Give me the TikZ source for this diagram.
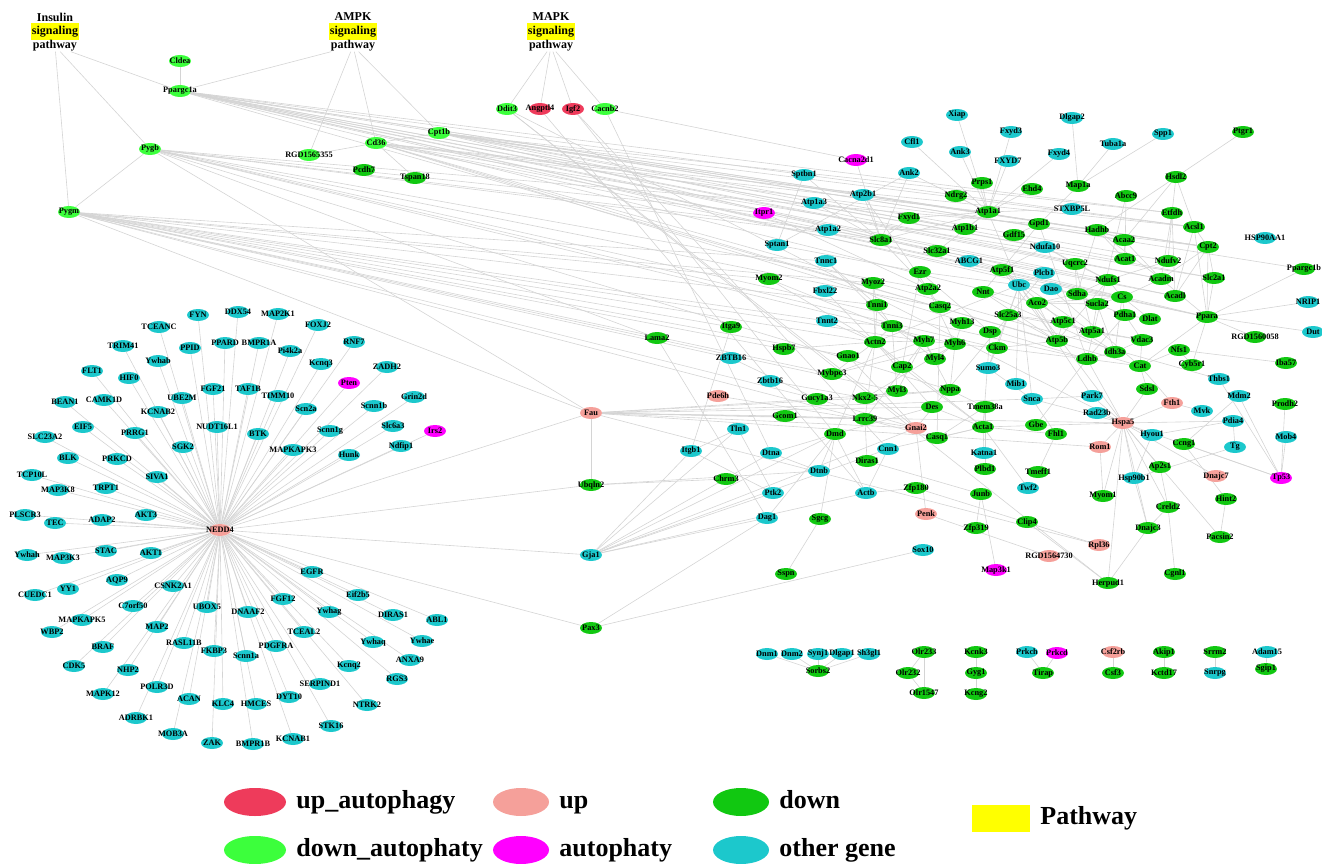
\documentclass[tikz,border=0pt]{standalone}
\usepackage{fontspec}
\setmainfont{Liberation Serif}
\usetikzlibrary{shapes,positioning,backgrounds}
\definecolor{colUpAuto}{HTML}{EE3B5B}
\definecolor{colUp}{HTML}{F5A09A}
\definecolor{colDown}{HTML}{11C811}
\definecolor{colDownAuto}{HTML}{3CFF3C}
\definecolor{colAutoph}{HTML}{FF00FF}
\definecolor{colOther}{HTML}{1CC8CC}
\definecolor{colPath}{HTML}{FFFF00}
\definecolor{colLink}{HTML}{D4D4D4}

\begin{document}
\begin{tikzpicture}[x=1pt, y=-1pt,
    gene/.style={ellipse, minimum width=22pt, minimum height=12pt, inner sep=0pt,
      label={[font=\bfseries\fontsize{8.3}{9}\selectfont, inner sep=0pt]center:#1}},
    upauto/.style={fill=colUpAuto},
    upgene/.style={fill=colUp},
    downgene/.style={fill=colDown},
    downauto/.style={fill=colDownAuto},
    autophaty/.style={fill=colAutoph},
    other/.style={fill=colOther},
    link/.style={draw=colLink, line width=0.6pt},
    ptitle/.style={font=\bfseries\fontsize{12}{14}\selectfont, inner sep=0pt},
    hilite/.style={ptitle, fill=colPath, minimum width=48pt, minimum height=17pt},
    legendkey/.style={ellipse, minimum width=62pt, minimum height=28pt, inner sep=0pt},
    legendtext/.style={font=\bfseries\fontsize{26}{30}\selectfont, inner sep=0pt,
      text height=17pt, text depth=5pt}]
  \useasboundingbox (0,0) rectangle (1322,864);

  % Pathways
  \node[ptitle] (insulintop) at (55,17) {Insulin};
  \node[hilite] (insulinsig) at (55,32) {signaling};
  \node[ptitle] (insulin) at (55,46) {pathway};
  \node[ptitle] (ampktop) at (353,17) {AMPK};
  \node[hilite] (ampksig) at (353,32) {signaling};
  \node[ptitle] (ampk) at (353,46) {pathway};
  \node[ptitle] (mapktop) at (551,17) {MAPK};
  \node[hilite] (mapksig) at (551,32) {signaling};
  \node[ptitle] (mapk) at (551,46) {pathway};

  % Pathway genes
  \node[gene=Cldea, downauto] (Cldea) at (180,61) {};
  \node[gene=Ppargc1a, downauto] (Ppargc1a) at (180,91) {};
  \node[gene=Pygb, downauto] (Pygb) at (150,149) {};
  \node[gene=Pygm, downauto] (Pygm) at (69,212) {};
  \node[gene=RGD1565355, downauto] (RGD1565355) at (309,155) {};
  \node[gene=Cd36, downauto] (Cd36) at (376,143) {};
  \node[gene=Cpt1b, downauto] (Cpt1b) at (439,133) {};
  \node[gene=Pcdh7, downgene] (Pcdh7) at (364,170) {};
  \node[gene=Tspan18, downgene] (Tspan18) at (415,178) {};
  \node[gene=Ddit3, downauto] (Ddit3) at (507,109) {};
  \node[gene=Angptl4, upauto] (Angptl4) at (540,109) {};
  \node[gene=Igf2, upauto] (Igf2) at (573,109) {};
  \node[gene=Cacnb2, downauto] (Cacnb2) at (605,109) {};

  % NEDD4 neighbourhood
  \node[gene=NEDD4, upgene] (NEDD4) at (220,530) {};
  \node[gene=FYN, other] (FYN) at (198,315) {};
  \node[gene=DDX54, other] (DDX54) at (238,312) {};
  \node[gene=TCEANC, other] (TCEANC) at (159,327) {};
  \node[gene=PPARD, other] (PPARD) at (225,343) {};
  \node[gene=TRIM41, other] (TRIM41) at (123,346) {};
  \node[gene=PPID, other] (PPID) at (190,348) {};
  \node[gene=Ywhab, other] (Ywhab) at (158,361) {};
  \node[gene=FLT1, other] (FLT1) at (92,371) {};
  \node[gene=HIF0, other] (HIF0) at (129,378) {};
  \node[gene=BEAN1, other] (BEAN1) at (65,402) {};
  \node[gene=CAMK1D, other] (CAMK1D) at (104,400) {};
  \node[gene=UBE2M, other] (UBE2M) at (182,398) {};
  \node[gene=FGF21, other] (FGF21) at (213,389) {};
  \node[gene=KCNAB2, other] (KCNAB2) at (158,412) {};
  \node[gene=NUDT16L1, other] (NUDT16L1) at (217,427) {};
  \node[gene=EIF5, other] (EIF5) at (83,427) {};
  \node[gene=SLC23A2, other] (SLC23A2) at (45,437) {};
  \node[gene=PRRG1, other] (PRRG1) at (135,433) {};
  \node[gene=SGK2, other] (SGK2) at (183,447) {};
  \node[gene=BLK, other] (BLK) at (68,458) {};
  \node[gene=PRKCD, other] (PRKCD) at (117,459) {};
  \node[gene=TCP10L, other] (TCP10L) at (32,475) {};
  \node[gene=SIVA1, other] (SIVA1) at (157,477) {};
  \node[gene=MAP3K8, other] (MAP3K8) at (58,490) {};
  \node[gene=TRPT1, other] (TRPT1) at (106,488) {};
  \node[gene=AKT3, other] (AKT3) at (146,515) {};
  \node[gene=PLSCR3, other] (PLSCR3) at (25,515) {};
  \node[gene=TEC, other] (TEC) at (55,523) {};
  \node[gene=ADAP2, other] (ADAP2) at (102,520) {};
  \node[gene=MAP2K1, other] (MAP2K1) at (278,314) {};
  \node[gene=FOXJ2, other] (FOXJ2) at (318,325) {};
  \node[gene=BMPR1A, other] (BMPR1A) at (259,343) {};
  \node[gene=Pi4k2a, other] (Pi4k2a) at (290,351) {};
  \node[gene=RNF7, other] (RNF7) at (354,342) {};
  \node[gene=Kcnq3, other] (Kcnq3) at (321,364) {};
  \node[gene=ZADH2, other] (ZADH2) at (387,367) {};
  \node[gene=Pten, autophaty] (Pten) at (349,383) {};
  \node[gene=TAF1B, other] (TAF1B) at (248,389) {};
  \node[gene=TIMM10, other] (TIMM10) at (278,396) {};
  \node[gene=Grin2d, other] (Grin2d) at (414,397) {};
  \node[gene=Scn2a, other] (Scn2a) at (306,409) {};
  \node[gene=Scnn1b, other] (Scnn1b) at (374,406) {};
  \node[gene=BTK, other] (BTK) at (258,434) {};
  \node[gene=Scnn1g, other] (Scnn1g) at (330,431) {};
  \node[gene=Slc6a3, other] (Slc6a3) at (393,426) {};
  \node[gene=Irs2, autophaty] (Irs2) at (435,431) {};
  \node[gene=Ndfip1, other] (Ndfip1) at (401,446) {};
  \node[gene=MAPKAPK3, other] (MAPKAPK3) at (293,450) {};
  \node[gene=Hunk, other] (Hunk) at (349,455) {};
  \node[gene=Ywhah, other] (Ywhah) at (27,555) {};
  \node[gene=MAP3K3, other] (MAP3K3) at (63,558) {};
  \node[gene=STAC, other] (STAC) at (106,551) {};
  \node[gene=AKT1, other] (AKT1) at (151,553) {};
  \node[gene=AQP9, other] (AQP9) at (117,580) {};
  \node[gene=CUEDC1, other] (CUEDC1) at (35,595) {};
  \node[gene=YY1, other] (YY1) at (68,589) {};
  \node[gene=CSNK2A1, other] (CSNK2A1) at (173,586) {};
  \node[gene=C7orf50, other] (C7orf50) at (133,606) {};
  \node[gene=UBOX5, other] (UBOX5) at (207,607) {};
  \node[gene=MAPKAPK5, other] (MAPKAPK5) at (82,620) {};
  \node[gene=WBP2, other] (WBP2) at (52,632) {};
  \node[gene=MAP2, other] (MAP2) at (157,627) {};
  \node[gene=RASL11B, other] (RASL11B) at (184,643) {};
  \node[gene=BRAF, other] (BRAF) at (103,647) {};
  \node[gene=FKBP3, other] (FKBP3) at (214,651) {};
  \node[gene=CDK5, other] (CDK5) at (74,666) {};
  \node[gene=NHP2, other] (NHP2) at (128,670) {};
  \node[gene=MAPK12, other] (MAPK12) at (103,694) {};
  \node[gene=POLR3D, other] (POLR3D) at (157,687) {};
  \node[gene=ACAN, other] (ACAN) at (189,699) {};
  \node[gene=KLC4, other] (KLC4) at (223,704) {};
  \node[gene=ADRBK1, other] (ADRBK1) at (136,718) {};
  \node[gene=MOB3A, other] (MOB3A) at (173,734) {};
  \node[gene=ZAK, other] (ZAK) at (212,743) {};
  \node[gene=EGFR, other] (EGFR) at (312,572) {};
  \node[gene=DNAAF2, other] (DNAAF2) at (248,612) {};
  \node[gene=FGF12, other] (FGF12) at (283,599) {};
  \node[gene=Eif2b5, other] (Eif2b5) at (358,595) {};
  \node[gene=Ywhag, other] (Ywhag) at (329,612) {};
  \node[gene=DIRAS1, other] (DIRAS1) at (393,615) {};
  \node[gene=ABL1, other] (ABL1) at (437,620) {};
  \node[gene=TCEAL2, other] (TCEAL2) at (304,632) {};
  \node[gene=PDGFRA, other] (PDGFRA) at (276,646) {};
  \node[gene=Scnn1a, other] (Scnn1a) at (246,656) {};
  \node[gene=Ywhaq, other] (Ywhaq) at (373,642) {};
  \node[gene=Ywhae, other] (Ywhae) at (422,641) {};
  \node[gene=ANXA9, other] (ANXA9) at (410,660) {};
  \node[gene=Kcnq2, other] (Kcnq2) at (349,666) {};
  \node[gene=RGS3, other] (RGS3) at (397,679) {};
  \node[gene=SERPIND1, other] (SERPIND1) at (320,684) {};
  \node[gene=HMCES, other] (HMCES) at (256,704) {};
  \node[gene=DYT10, other] (DYT10) at (289,697) {};
  \node[gene=NTRK2, other] (NTRK2) at (367,705) {};
  \node[gene=STK16, other] (STK16) at (331,726) {};
  \node[gene=BMPR1B, other] (BMPR1B) at (253,744) {};
  \node[gene=KCNAB1, other] (KCNAB1) at (293,739) {};

  % Right network, left part
  \node[gene=Fau, upgene] (Fau) at (591,413) {};
  \node[gene=Ubqln2, downgene] (Ubqln2) at (591,485) {};
  \node[gene=Gja1, other] (Gja1) at (591,555) {};
  \node[gene=Pax3, downgene] (Pax3) at (591,628) {};
  \node[gene=Lama2, downgene] (Lama2) at (657,338) {};
  \node[gene=Itga9, downgene] (Itga9) at (731,327) {};
  \node[gene=ZBTB16, other] (ZBTB16) at (731,358) {};
  \node[gene=Hspb7, downgene] (Hspb7) at (784,349) {};
  \node[gene=Zbtb16, other] (Zbtb16) at (770,381) {};
  \node[gene=Pde6h, upgene] (Pde6h) at (718,396) {};
  \node[gene=Gucy1a3, downgene] (Gucy1a3) at (817,399) {};
  \node[gene=Gcom1, downgene] (Gcom1) at (785,416) {};
  \node[gene=Tln1, other] (Tln1) at (738,429) {};
  \node[gene=Itgb1, other] (Itgb1) at (691,451) {};
  \node[gene=Dtna, other] (Dtna) at (771,453) {};
  \node[gene=Chrm3, downgene] (Chrm3) at (726,479) {};
  \node[gene=Dtnb, other] (Dtnb) at (819,471) {};
  \node[gene=Ptk2, other] (Ptk2) at (773,493) {};
  \node[gene=Dag1, other] (Dag1) at (767,518) {};
  \node[gene=Sgcg, downgene] (Sgcg) at (820,519) {};
  \node[gene=Sspn, downgene] (Sspn) at (786,574) {};
  \node[gene=Sox10, other] (Sox10) at (923,550) {};
  \node[gene=Itpr1, autophaty] (Itpr1) at (764,213) {};
  \node[gene=Sptan1, other] (Sptan1) at (777,245) {};
  \node[gene=Myom2, downgene] (Myom2) at (769,279) {};
  \node[gene=Sptbn1, other] (Sptbn1) at (804,175) {};
  \node[gene=Atp1a3, other] (Atp1a3) at (814,203) {};
  \node[gene=Atp1a2, other] (Atp1a2) at (828,230) {};
  \node[gene=Tnnc1, other] (Tnnc1) at (826,261) {};
  \node[gene=Fbxl22, other] (Fbxl22) at (825,291) {};
  \node[gene=Tnnt2, other] (Tnnt2) at (827,321) {};
  \node[gene=Cacna2d1, autophaty] (Cacna2d1) at (856,160) {};
  \node[gene=Cfl1, other] (Cfl1) at (912,142) {};
  \node[gene=Ank2, other] (Ank2) at (909,173) {};
  \node[gene=Atp2b1, other] (Atp2b1) at (863,195) {};
  \node[gene=Fxyd1, downgene] (Fxyd1) at (909,218) {};
  \node[gene=Slc8a1, downgene] (Slc8a1) at (881,240) {};
  \node[gene=Myoz2, downgene] (Myoz2) at (873,283) {};
  \node[gene=Ezr, downgene] (Ezr) at (920,272) {};
  \node[gene=Atp2a2, downgene] (Atp2a2) at (928,289) {};
  \node[gene=Tnni1, downgene] (Tnni1) at (877,305) {};
  \node[gene=Tnni3, downgene] (Tnni3) at (892,326) {};
  \node[gene=Casq2, downgene] (Casq2) at (940,307) {};
  \node[gene=Slc32a1, downgene] (Slc32a1) at (937,251) {};
  \node[gene=Actn2, downgene] (Actn2) at (875,342) {};
  \node[gene=Myh7, downgene] (Myh7) at (924,341) {};
  \node[gene=Gnao1, downgene] (Gnao1) at (848,356) {};
  \node[gene=Cap2, downgene] (Cap2) at (902,367) {};
  \node[gene=Mybpc3, downgene] (Mybpc3) at (832,374) {};
  \node[gene=Myl3, downgene] (Myl3) at (897,391) {};
  \node[gene=Nkx2-5, downgene] (Nkx) at (865,398) {};
  \node[gene=Lrrc39, downgene] (Lrrc39) at (865,419) {};
  \node[gene=Des, downgene] (Des) at (932,407) {};
  \node[gene=Gnai2, upgene] (Gnai2) at (916,428) {};
  \node[gene=Casq1, downgene] (Casq1) at (937,438) {};
  \node[gene=Dmd, downgene] (Dmd) at (835,434) {};
  \node[gene=Cnn1, other] (Cnn1) at (888,449) {};
  \node[gene=Diras1, downgene] (Diras1) at (867,461) {};
  \node[gene=Actb, other] (Actb) at (866,493) {};
  \node[gene=Zfp180, downgene] (Zfp180) at (916,488) {};
  \node[gene=Penk, upgene] (Penk) at (926,514) {};

  % Right network, right part
  \node[gene=Xiap, other] (Xiap) at (957,115) {};
  \node[gene=Dlgap2, other] (Dlgap2) at (1072,118) {};
  \node[gene=Fxyd3, other] (Fxyd3) at (1011,132) {};
  \node[gene=Spp1, other] (Spp1) at (1163,134) {};
  \node[gene=Ptgr1, downgene] (Ptgr1) at (1243,132) {};
  \node[gene=Tuba1a, other] (Tuba1a) at (1113,144) {};
  \node[gene=Ank3, other] (Ank3) at (960,152) {};
  \node[gene=Fxyd4, other] (Fxyd4) at (1059,154) {};
  \node[gene=FXYD7, other] (FXYD7) at (1008,161) {};
  \node[gene=Prps1, downgene] (Prps1) at (982,183) {};
  \node[gene=Map1a, downgene] (Map1a) at (1078,186) {};
  \node[gene=Hsdl2, downgene] (Hsdl2) at (1176,177) {};
  \node[gene=Ndrg2, downgene] (Ndrg2) at (956,196) {};
  \node[gene=Ehd4, downgene] (Ehd4) at (1032,189) {};
  \node[gene=Abcc9, downgene] (Abcc9) at (1126,196) {};
  \node[gene=Atp1a1, downgene] (Atp1a1) at (988,212) {};
  \node[gene=STXBP5L, other] (STXBP5L) at (1072,209) {};
  \node[gene=Etfdh, downgene] (Etfdh) at (1172,213) {};
  \node[gene=Atp1b1, downgene] (Atp1b1) at (965,229) {};
  \node[gene=Gpd1, downgene] (Gpd1) at (1039,224) {};
  \node[gene=Hadhb, downgene] (Hadhb) at (1097,230) {};
  \node[gene=Acsl1, downgene] (Acsl1) at (1194,227) {};
  \node[gene=Gdf15, downgene] (Gdf15) at (1014,235) {};
  \node[gene=Acaa2, downgene] (Acaa2) at (1124,240) {};
  \node[gene=HSP90AA1, other] (HSP90AA1) at (1265,238) {};
  \node[gene=Cpt2, downgene] (Cpt2) at (1208,247) {};
  \node[gene=Ndufa10, other] (Ndufa10) at (1045,247) {};
  \node[gene=ABCG1, other] (ABCG1) at (969,261) {};
  \node[gene=Acat1, downgene] (Acat1) at (1125,259) {};
  \node[gene=Atp5f1, downgene] (Atp5f1) at (1002,270) {};
  \node[gene=Uqcrc2, downgene] (Uqcrc2) at (1075,264) {};
  \node[gene=Ndufv2, downgene] (Ndufv2) at (1168,261) {};
  \node[gene=Plcb1, other] (Plcb1) at (1044,273) {};
  \node[gene=Ppargc1b, downgene] (Ppargc1b) at (1304,269) {};
  \node[gene=Ndufs1, downgene] (Ndufs1) at (1108,280) {};
  \node[gene=Acadm, downgene] (Acadm) at (1161,279) {};
  \node[gene=Slc2a1, downgene] (Slc2a1) at (1214,278) {};
  \node[gene=Ubc, other] (Ubc) at (1019,285) {};
  \node[gene=Nnt, downgene] (Nnt) at (983,292) {};
  \node[gene=Dao, other] (Dao) at (1051,289) {};
  \node[gene=Sdha, downgene] (Sdha) at (1077,294) {};
  \node[gene=Cs, downgene] (Cs) at (1122,297) {};
  \node[gene=Acadl, downgene] (Acadl) at (1175,296) {};
  \node[gene=Aco2, downgene] (Aco2) at (1037,303) {};
  \node[gene=Sucla2, downgene] (Sucla2) at (1097,304) {};
  \node[gene=NRIP1, other] (NRIP1) at (1308,302) {};
  \node[gene=Slc25a3, downgene] (Slc25a3) at (1008,315) {};
  \node[gene=Atp5c1, downgene] (Atp5c1) at (1063,322) {};
  \node[gene=Pdha1, downgene] (Pdha1) at (1125,315) {};
  \node[gene=Dlat, downgene] (Dlat) at (1150,319) {};
  \node[gene=Ppara, downgene] (Ppara) at (1207,317) {};
  \node[gene=Myh13, downgene] (Myh13) at (962,323) {};
  \node[gene=Atp5a1, downgene] (Atp5a1) at (1092,332) {};
  \node[gene=Dsp, downgene] (Dsp) at (990,332) {};
  \node[gene=Myh6, downgene] (Myh6) at (955,344) {};
  \node[gene=Atp5b, downgene] (Atp5b) at (1057,341) {};
  \node[gene=Vdac3, downgene] (Vdac3) at (1142,340) {};
  \node[gene=RGD1560058, downgene] (RGD1560058) at (1255,337) {};
  \node[gene=Dut, other] (Dut) at (1313,332) {};
  \node[gene=Ckm, downgene] (Ckm) at (997,348) {};
  \node[gene=Nfs1, downgene] (Nfs1) at (1179,350) {};
  \node[gene=Idh3a, downgene] (Idh3a) at (1115,352) {};
  \node[gene=Myl4, downgene] (Myl4) at (935,359) {};
  \node[gene=Ldhb, downgene] (Ldhb) at (1087,359) {};
  \node[gene=Cat, downgene] (Cat) at (1140,366) {};
  \node[gene=Cyb5r1, downgene] (Cyb5r1) at (1192,365) {};
  \node[gene=Iba57, downgene] (Iba57) at (1286,363) {};
  \node[gene=Sumo3, other] (Sumo3) at (988,368) {};
  \node[gene=Thbs1, other] (Thbs1) at (1219,379) {};
  \node[gene=Mib1, other] (Mib1) at (1016,384) {};
  \node[gene=Sdsl, downgene] (Sdsl) at (1147,389) {};
  \node[gene=Nppa, downgene] (Nppa) at (950,390) {};
  \node[gene=Snca, other] (Snca) at (1032,399) {};
  \node[gene=Park7, other] (Park7) at (1092,396) {};
  \node[gene=Mdm2, other] (Mdm2) at (1239,396) {};
  \node[gene=Fth1, upgene] (Fth1) at (1172,403) {};
  \node[gene=Prodh2, downgene] (Prodh2) at (1285,404) {};
  \node[gene=Tmem38a, downgene] (Tmem38a) at (985,407) {};
  \node[gene=Rad23b, other] (Rad23b) at (1097,413) {};
  \node[gene=Mvk, other] (Mvk) at (1202,411) {};
  \node[gene=Hspa5, upgene] (Hspa5) at (1123,423) {};
  \node[gene=Pdia4, other] (Pdia4) at (1233,421) {};
  \node[gene=Gbe, downgene] (Gbe) at (1036,425) {};
  \node[gene=Fhl1, downgene] (Fhl1) at (1056,434) {};
  \node[gene=Acta1, downgene] (Acta1) at (983,427) {};
  \node[gene=Hyou1, other] (Hyou1) at (1152,435) {};
  \node[gene=Mob4, other] (Mob4) at (1286,437) {};
  \node[gene=Rom1, upgene] (Rom1) at (1100,447) {};
  \node[gene=Ccng1, downgene] (Ccng1) at (1184,444) {};
  \node[gene=Tg, other] (Tg) at (1235,447) {};
  \node[gene=Katna1, other] (Katna1) at (984,453) {};
  \node[gene=Ap2s1, downgene] (Ap2s1) at (1160,467) {};
  \node[gene=Plbd1, downgene] (Plbd1) at (985,469) {};
  \node[gene=Tmeff1, downgene] (Tmeff1) at (1038,472) {};
  \node[gene=Dnajc7, upgene] (Dnajc7) at (1216,476) {};
  \node[gene=Tp53, autophaty] (Tp53) at (1281,478) {};
  \node[gene=Hsp90b1, other] (Hsp90b1) at (1134,478) {};
  \node[gene=Twf2, other] (Twf2) at (1028,488) {};
  \node[gene=Junb, downgene] (Junb) at (981,494) {};
  \node[gene=Myom1, downgene] (Myom1) at (1103,496) {};
  \node[gene=Hint2, downgene] (Hint2) at (1226,499) {};
  \node[gene=Creld2, downgene] (Creld2) at (1168,507) {};
  \node[gene=Zfp319, downgene] (Zfp319) at (976,528) {};
  \node[gene=Clip4, downgene] (Clip4) at (1027,522) {};
  \node[gene=Dnajc3, downgene] (Dnajc3) at (1148,528) {};
  \node[gene=Pacsin2, downgene] (Pacsin2) at (1220,537) {};
  \node[gene=Rpl36, upgene] (Rpl36) at (1099,545) {};
  \node[gene=RGD1564730, upgene] (RGD1564730) at (1049,556) {};
  \node[gene=Map3k1, autophaty] (Map3k1) at (996,570) {};
  \node[gene=Cgnl1, downgene] (Cgnl1) at (1175,574) {};
  \node[gene=Herpud1, downgene] (Herpud1) at (1108,583) {};

  % Small separate groups
  \node[gene=Dnm1, other] (Dnm1) at (767,654) {};
  \node[gene=Dnm2, other] (Dnm2) at (792,654) {};
  \node[gene=Synj1, other] (Synj1) at (818,654) {};
  \node[gene=Dlgap1, other] (Dlgap1) at (842,654) {};
  \node[gene=Sh3gl1, other] (Sh3gl1) at (869,654) {};
  \node[gene=Sorbs2, downgene] (Sorbs2) at (818,671) {};
  \node[gene=Olr233, downgene] (Olr233) at (924,652) {};
  \node[gene=Olr232, downgene] (Olr232) at (908,673) {};
  \node[gene=Olr1547, downgene] (Olr1547) at (924,693) {};
  \node[gene=Kcnk3, downgene] (Kcnk3) at (976,652) {};
  \node[gene=Gyg1, downgene] (Gyg1) at (976,673) {};
  \node[gene=Kcng2, downgene] (Kcng2) at (976,694) {};
  \node[gene=Prkch, other] (Prkch) at (1027,652) {};
  \node[gene=Prkcd, autophaty] (Prkcd) at (1057,653) {};
  \node[gene=Tirap, downgene] (Tirap) at (1043,673) {};
  \node[gene=Csf2rb, upgene] (Csf2rb) at (1113,652) {};
  \node[gene=Csf3, downgene] (Csf3) at (1113,673) {};
  \node[gene=Akip1, downgene] (Akip1) at (1164,652) {};
  \node[gene=Kctd17, downgene] (Kctd17) at (1164,673) {};
  \node[gene=Srrm2, downgene] (Srrm2) at (1215,652) {};
  \node[gene=Snrpg, other] (Snrpg) at (1215,673) {};
  \node[gene=Adam15, other] (Adam15) at (1267,652) {};
  \node[gene=Sgip1, downgene] (Sgip1) at (1266,669) {};

  \begin{scope}[on background layer]
    % Pathway links
    \draw[link] (insulin) edge (Ppargc1a) edge (Pygb) edge (Pygm);
    \draw[link] (ampk) edge (Ppargc1a) edge (RGD1565355) edge (Cd36) edge (Cpt1b);
    \draw[link] (mapk) edge (Ddit3) edge (Angptl4) edge (Igf2) edge (Cacnb2);
    \draw[link] (Cldea) edge (Ppargc1a);
    \draw[link] (Pygb) edge (Pygm);
    \draw[link] (Cd36) edge (RGD1565355) edge (Cpt1b) edge (Tspan18);

    % NEDD4 star
    \draw[link] (NEDD4) edge (FYN) edge (DDX54) edge (TCEANC) edge (PPARD) edge (TRIM41)
      edge (PPID) edge (Ywhab) edge (FLT1) edge (HIF0) edge (BEAN1) edge (CAMK1D)
      edge (UBE2M) edge (FGF21) edge (KCNAB2) edge (NUDT16L1) edge (EIF5) edge (SLC23A2)
      edge (PRRG1) edge (SGK2) edge (BLK) edge (PRKCD) edge (TCP10L) edge (SIVA1)
      edge (MAP3K8) edge (TRPT1) edge (AKT3) edge (PLSCR3) edge (TEC) edge (ADAP2)
      edge (MAP2K1) edge (FOXJ2) edge (BMPR1A) edge (Pi4k2a) edge (RNF7) edge (Kcnq3)
      edge (ZADH2) edge (Pten) edge (TAF1B) edge (TIMM10) edge (Grin2d) edge (Scn2a)
      edge (Scnn1b) edge (BTK) edge (Scnn1g) edge (Slc6a3) edge (Irs2) edge (Ndfip1)
      edge (MAPKAPK3) edge (Hunk) edge (Ywhah) edge (MAP3K3) edge (STAC) edge (AKT1)
      edge (AQP9) edge (CUEDC1) edge (YY1) edge (CSNK2A1) edge (C7orf50) edge (UBOX5)
      edge (MAPKAPK5) edge (WBP2) edge (MAP2) edge (RASL11B) edge (BRAF) edge (FKBP3)
      edge (CDK5) edge (NHP2) edge (MAPK12) edge (POLR3D) edge (ACAN) edge (KLC4)
      edge (ADRBK1) edge (MOB3A) edge (ZAK) edge (EGFR) edge (DNAAF2) edge (FGF12)
      edge (Eif2b5) edge (Ywhag) edge (DIRAS1) edge (ABL1) edge (TCEAL2) edge (PDGFRA)
      edge (Scnn1a) edge (Ywhaq) edge (Ywhae) edge (ANXA9) edge (Kcnq2) edge (RGS3)
      edge (SERPIND1) edge (HMCES) edge (DYT10) edge (NTRK2) edge (STK16) edge (BMPR1B)
      edge (KCNAB1) edge (Fau) edge (Ubqln2) edge (Gja1) edge (Pax3);

    % Long links into the right network
    \draw[link] (Ppargc1a) edge (Ppara) edge (Cs) edge (Acadm) edge (Cpt2) edge (Sdha)
      edge (Ndufs1) edge (Uqcrc2) edge (Atp5b) edge (Aco2) edge (Acadl) edge (Hadhb)
      edge (Etfdh) edge (Acsl1) edge (Slc2a1) edge (Ppargc1b) edge (Ndufa10);
    \draw[link] (Pygb) edge (Fau) edge (Ldhb) edge (Ckm) edge (Gpd1) edge (Atp1a2)
      edge (Slc8a1) edge (Atp2a2) edge (Casq2) edge (Myh6) edge (Itpr1) edge (Lama2) edge (Nppa);
    \draw[link] (Pygm) edge (Fau) edge (Tnni1) edge (Myh7) edge (Actn2) edge (Myl3)
      edge (Casq1) edge (Myoz2) edge (Tnnc1) edge (Myom2) edge (Hspb7) edge (Itga9)
      edge (Gnao1) edge (Mybpc3) edge (Tnnt2) edge (ZBTB16) edge (Gucy1a3);
    \draw[link] (Cd36) edge (Ppara) edge (Acsl1) edge (Cpt2) edge (Acadl) edge (Thbs1)
      edge (Atp1a1) edge (Slc2a1) edge (Cat) edge (Ldhb);
    \draw[link] (Cpt1b) edge (Cpt2) edge (Acadm) edge (Acsl1) edge (Hadhb) edge (Acaa2)
      edge (Etfdh) edge (Ppara) edge (Acat1) edge (Ndufv2);
    \draw[link] (Ddit3) edge (Gnai2) edge (Hspa5) edge (Herpud1);
    \draw[link] (Angptl4) edge (Actb);
    \draw[link] (Igf2) edge (Dmd) edge (Cnn1);
    \draw[link] (Cacnb2) edge (Dtna) edge (Cacna2d1);
    \draw[link] (Fau) edge (Ubqln2) edge (Nkx) edge (Lrrc39) edge (Gnai2) edge (Gcom1)
      edge (Gucy1a3) edge (Des) edge (Rpl36) edge (Hspa5) edge (Snca) edge (Rom1);
    \draw[link] (Ubqln2) edge (Chrm3) edge (Dtnb);
    \draw[link] (Gja1) edge (Dag1) edge (Dtna) edge (Tln1) edge (Actb) edge (Dmd)
      edge (Itgb1) edge (Cnn1) edge (Gnai2) edge (Ptk2);
    \draw[link] (Pax3) edge (Dag1) edge (Sox10);

    % Membrane and sarcomere links
    \draw[link] (Atp1a1) edge (Xiap) edge (Fxyd3) edge (FXYD7) edge (Fxyd4) edge (Ank3)
      edge (Ndrg2) edge (Prps1) edge (Ehd4) edge (Atp1b1) edge (Fxyd1) edge (Ank2)
      edge (Cfl1) edge (Slc8a1) edge (Ubc) edge (STXBP5L) edge (Slc32a1);
    \draw[link] (Map1a) edge (Dlgap2) edge (Tuba1a) edge (Spp1) edge (Gpd1);
    \draw[link] (Slc8a1) edge (Atp2b1) edge (Fxyd1) edge (Cacna2d1) edge (Ank2)
      edge (Sptbn1) edge (Atp1a3) edge (Atp1a2) edge (Atp2a2);
    \draw[link] (Atp1b1) edge (Atp1a3) edge (Atp1a2) edge (Fxyd1);
    \draw[link] (Sptan1) edge (Sptbn1) edge (Ank2) edge (Ezr);
    \draw[link] (Itpr1) edge (Atp2a2) edge (Plcb1);
    \draw[link] (Atp2a2) edge (Casq2) edge (Atp2b1) edge (Myh6);
    \draw[link] (Casq2) edge (Casq1);
    \draw[link] (Ezr) edge (Cap2) edge (Ubc) edge (Dsp);
    \draw[link] (Tnni1) edge (Tnnc1) edge (Tnni3) edge (Actn2) edge (Myoz2);
    \draw[link] (Tnni3) edge (Tnnc1) edge (Tnnt2) edge (Myh7) edge (Myl3) edge (Actn2) edge (Myl4);
    \draw[link] (Actn2) edge (Myom2) edge (Fbxl22) edge (Tnnt2) edge (Myoz2) edge (Myh7)
      edge (Cap2) edge (Mybpc3) edge (Acta1) edge (Lrrc39) edge (Dmd) edge (Des) edge (Hspb7);
    \draw[link] (Myh7) edge (Myom2) edge (Mybpc3) edge (Myl3) edge (Myl4) edge (Myh6)
      edge (Lrrc39) edge (Nppa);
    \draw[link] (Myh6) edge (Myh13) edge (Nppa) edge (Myl4) edge (Mybpc3) edge (Ckm);
    \draw[link] (Nkx) edge (Nppa) edge (Myl3) edge (Zbtb16) edge (Myh6);
    \draw[link] (Gnai2) edge (Gnao1) edge (Gucy1a3) edge (Pde6h) edge (Penk) edge (Plcb1);
    \draw[link] (Gucy1a3) edge (Nppa) edge (ZBTB16);
    \draw[link] (Lrrc39) edge (Diras1) edge (Gcom1);
    \draw[link] (Acta1) edge (Des) edge (Dsp) edge (Cap2) edge (Casq1) edge (Katna1)
      edge (Twf2) edge (Tmem38a) edge (Cnn1) edge (Fhl1) edge (Hspa5);
    \draw[link] (Dmd) edge (Dtna) edge (Dtnb) edge (Dag1) edge (Sgcg) edge (Actb) edge (Des);
    \draw[link] (Dag1) edge (Lama2);
    \draw[link] (Sgcg) edge (Sspn);
    \draw[link] (Dtna) edge (Dtnb);
    \draw[link] (Itgb1) edge (Tln1) edge (Ptk2) edge (Itga9);
    \draw[link] (Tln1) edge (Ptk2);
    \draw[link] (Actb) edge (Cnn1) edge (Zfp180);
    \draw[link] (Casq1) edge (Tmem38a);
    \draw[link] (Tmem38a) edge (Nppa) edge (Plbd1);

    % Mitochondrial links
    \draw[link] (Hsdl2) edge (Ptgr1) edge (Etfdh) edge (Acaa2) edge (Acsl1) edge (Hadhb);
    \draw[link] (Abcc9) edge (Acat1) edge (Ldhb);
    \draw[link] (Etfdh) edge (Acadm) edge (Acadl) edge (Ndufv2);
    \draw[link] (Acsl1) edge (Cpt2) edge (Acadl) edge (Ppara);
    \draw[link] (Hadhb) edge (Acaa2) edge (Acadm) edge (Acat1) edge (Cpt2) edge (Sdha);
    \draw[link] (Acaa2) edge (Acat1) edge (Acadm);
    \draw[link] (Cpt2) edge (Ppara) edge (Acadm) edge (Acadl) edge (Slc2a1);
    \draw[link] (Ppara) edge (Ppargc1b) edge (NRIP1) edge (RGD1560058) edge (Dut)
      edge (Acadm) edge (Slc2a1) edge (Cyb5r1) edge (Cat);
    \draw[link] (Ndufs1) edge (Ndufv2) edge (Uqcrc2) edge (Ndufa10) edge (Sdha) edge (Cs) edge (Atp5b);
    \draw[link] (Uqcrc2) edge (Sdha) edge (Ndufa10) edge (Atp5a1);
    \draw[link] (Sdha) edge (Sucla2) edge (Aco2) edge (Cs) edge (Ubc);
    \draw[link] (Cs) edge (Aco2) edge (Idh3a) edge (Pdha1) edge (Sucla2) edge (Acadm) edge (Dlat);
    \draw[link] (Aco2) edge (Idh3a) edge (Sucla2) edge (Atp5b);
    \draw[link] (Sucla2) edge (Atp5a1) edge (Idh3a) edge (Pdha1);
    \draw[link] (Pdha1) edge (Dlat) edge (Ldhb) edge (Vdac3);
    \draw[link] (Atp5f1) edge (Atp5b) edge (Atp5c1) edge (Atp5a1) edge (Ubc) edge (Ndufa10) edge (ABCG1);
    \draw[link] (Atp5b) edge (Atp5c1) edge (Atp5a1) edge (Slc25a3) edge (Nnt) edge (Ckm);
    \draw[link] (Atp5a1) edge (Vdac3) edge (Atp5c1);
    \draw[link] (Slc25a3) edge (Atp5c1) edge (Vdac3);
    \draw[link] (Nnt) edge (Gpd1) edge (Idh3a);
    \draw[link] (Gpd1) edge (Ldhb) edge (Gdf15);
    \draw[link] (Ldhb) edge (Cat) edge (Idh3a) edge (Ckm) edge (Gbe);
    \draw[link] (Cat) edge (Sdsl) edge (Nfs1) edge (Vdac3) edge (Dao);
    \draw[link] (Nfs1) edge (Iba57) edge (Cyb5r1);
    \draw[link] (Vdac3) edge (Idh3a);

    % Ubiquitin and stress links
    \draw[link] (Ubc) edge (Sumo3) edge (Mib1) edge (Snca) edge (Park7) edge (Hspa5)
      edge (Ckm) edge (Actn2) edge (Plcb1);
    \draw[link] (Sumo3) edge (Snca) edge (Ckm);
    \draw[link] (Snca) edge (Park7) edge (Hspa5) edge (Fhl1);
    \draw[link] (Hspa5) edge (Park7) edge (Fth1) edge (Rad23b) edge (Hyou1) edge (Rom1)
      edge (Hsp90b1) edge (Creld2) edge (Dnajc3) edge (Myom1) edge (Pdia4) edge (Tp53)
      edge (Dnajc7) edge (Ap2s1) edge (Herpud1) edge (Sdsl) edge (Ldhb) edge (Pacsin2);
    \draw[link] (Fth1) edge (Cat) edge (Mvk);
    \draw[link] (Hyou1) edge (Pdia4) edge (Hsp90b1);
    \draw[link] (Rom1) edge (Myom1);
    \draw[link] (Tp53) edge (Mdm2) edge (Ccng1) edge (Prodh2) edge (Mob4) edge (Thbs1);
    \draw[link] (Tg) edge (Pdia4) edge (Hsp90b1);
    \draw[link] (Ccng1) edge (Mdm2);
    \draw[link] (Creld2) edge (Cgnl1) edge (Dnajc3) edge (Ap2s1);
    \draw[link] (Dnajc3) edge (Herpud1) edge (Hsp90b1);
    \draw[link] (Hint2) edge (Pacsin2) edge (Ccng1);
    \draw[link] (Herpud1) edge (Clip4);
    \draw[link] (Fhl1) edge (Tmeff1);
    \draw[link] (Junb) edge (Zfp319) edge (Map3k1) edge (Diras1);
    \draw[link] (Penk) edge (RGD1564730);
    \draw[link] (Zfp180) edge (Rpl36);

    % Small groups
    \draw[link] (Sorbs2) edge (Dnm1) edge (Dnm2) edge (Synj1) edge (Dlgap1) edge (Sh3gl1);
    \draw[link] (Olr233) edge (Olr232) edge (Olr1547);
    \draw[link] (Olr232) edge (Olr1547);
    \draw[link] (Gyg1) edge (Kcnk3) edge (Kcng2);
    \draw[link] (Tirap) edge (Prkch) edge (Prkcd);
    \draw[link] (Csf2rb) edge (Csf3);
    \draw[link] (Akip1) edge (Kctd17);
    \draw[link] (Srrm2) edge (Snrpg);
    \draw[link] (Adam15) edge (Sgip1);
  \end{scope}

  % Legend
  \node[legendkey, fill=colUpAuto] (keyupauto) at (255,802) {};
  \node[legendtext, right=10pt of keyupauto] (txtupauto) {up\_autophagy};
  \node[legendkey, fill=colUp, minimum width=56pt] (keyup) at (521,802) {};
  \node[legendtext, right=10pt of keyup] (txtup) {up};
  \node[legendkey, fill=colDown, minimum width=56pt] (keydown) at (741,802) {};
  \node[legendtext, right=10pt of keydown] (txtdown) {down};
  \node[fill=colPath, minimum width=58pt, minimum height=27pt, inner sep=0pt] (keypath) at (1001,818) {};
  \node[legendtext, right=10pt of keypath] (txtpath) {Pathway};
  \node[legendkey, fill=colDownAuto] (keydownauto) at (255,850) {};
  \node[legendtext, right=10pt of keydownauto] (txtdownauto) {down\_autophaty};
  \node[legendkey, fill=colAutoph, minimum width=56pt] (keyauto) at (521,850) {};
  \node[legendtext, right=10pt of keyauto] (txtauto) {autophaty};
  \node[legendkey, fill=colOther, minimum width=56pt] (keyother) at (741,850) {};
  \node[legendtext, right=10pt of keyother] (txtother) {other gene};
\end{tikzpicture}
\end{document}
